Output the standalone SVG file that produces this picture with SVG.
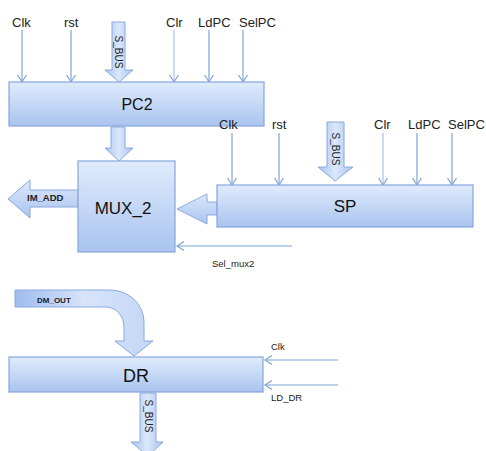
<svg xmlns="http://www.w3.org/2000/svg" width="486" height="451" viewBox="0 0 486 451">
<defs>
<linearGradient id="boxg" x1="0" y1="0" x2="0" y2="1">
<stop offset="0" stop-color="#e0ebfc"/>
<stop offset="1" stop-color="#a9c4ef"/>
</linearGradient>
<linearGradient id="vArr" x1="0" y1="0" x2="1" y2="0">
<stop offset="0" stop-color="#a9c4ef"/>
<stop offset="0.5" stop-color="#dbe7fb"/>
<stop offset="1" stop-color="#a9c4ef"/>
</linearGradient>
<linearGradient id="hArr" x1="0" y1="0" x2="0" y2="1">
<stop offset="0" stop-color="#dce8fb"/>
<stop offset="1" stop-color="#a9c4ef"/>
</linearGradient>
<linearGradient id="dmArr" x1="0" y1="0" x2="1" y2="0">
<stop offset="0" stop-color="#9fbbed"/>
<stop offset="0.5" stop-color="#d7e4fa"/>
<stop offset="1" stop-color="#c3d6f5"/>
</linearGradient>
<marker id="open" markerUnits="userSpaceOnUse" markerWidth="10" markerHeight="12" refX="7" refY="5" orient="auto">
<path d="M0,0.5 L7,5 L0,9.5" fill="none" stroke="#7fa3d6" stroke-width="1.2"/>
</marker>
<style>
.box{fill:url(#boxg);stroke:#85a6da;stroke-width:1.2}
.big{stroke:#8aaade;stroke-width:1}
.thin{stroke:#7fa3d6;stroke-width:1.2;fill:none;marker-end:url(#open)}
.lbl{font-family:"Liberation Sans",Arial,sans-serif;fill:#222;font-size:13px}
.nm{font-family:"Liberation Sans",Arial,sans-serif;fill:#111;text-anchor:middle}
.sm{font-family:"Liberation Sans",Arial,sans-serif;fill:#222;font-size:9px}
.bus{font-family:"Liberation Sans",Arial,sans-serif;fill:#222;font-size:10px;text-anchor:middle}
</style>
</defs>

<g id="connectors">
<!-- PC2 inputs -->
<line class="thin" x1="22" y1="30" x2="22" y2="82"/>
<line class="thin" x1="71" y1="30" x2="71" y2="82"/>
<line class="thin" x1="174" y1="30" x2="174" y2="82" style="stroke:#a9c2e6"/>
<line class="thin" x1="209" y1="30" x2="209" y2="82"/>
<line class="thin" x1="243" y1="30" x2="243" y2="82"/>
<path class="big" fill="url(#vArr)" d="M112,22 H125 V70 H133 L119,82 L105,70 H112 Z"/>
<text class="bus" transform="translate(115,52) rotate(90)">S_BUS</text>
<!-- PC2 to MUX -->
<path class="big" fill="url(#vArr)" d="M111,127 H125 V148 H133 L119,161 L105,148 H111 Z"/>
<!-- IM_ADD -->
<path class="big" fill="url(#hArr)" d="M78,190 H30 V180 L8,199 L30,218 V207 H78 Z"/>
<text class="sm" x="27" y="201" style="font-size:9.5px;font-weight:bold">IM_ADD</text>
<!-- SP to MUX -->
<path class="big" fill="url(#hArr)" d="M217,202 H207 V194 L177,209 L207,224 V215 H217 Z"/>
<!-- SP inputs -->
<line class="thin" x1="232" y1="133" x2="232" y2="185"/>
<line class="thin" x1="279" y1="133" x2="279" y2="185"/>
<line class="thin" x1="383" y1="133" x2="383" y2="185" style="stroke:#a9c2e6"/>
<line class="thin" x1="417" y1="133" x2="417" y2="185"/>
<line class="thin" x1="452" y1="133" x2="452" y2="185"/>
<path class="big" fill="url(#vArr)" d="M327,122 H344 V167 H353 L335,181 L318,167 H327 Z"/>
<text class="bus" transform="translate(332,149) rotate(90)">S_BUS</text>
<!-- Sel_mux2 -->
<line class="thin" x1="292" y1="246" x2="177" y2="246"/>
<!-- DM_OUT -->
<path class="big" fill="url(#dmArr)" d="M15,290 H110 A34,32 0 0 1 144,322 V341 H153 L134,356 L115,341 H124 V327 A18,20 0 0 0 106,307 H15 Z"/>
<text class="sm" x="37" y="303" style="font-size:8px;font-weight:bold">DM_OUT</text>
<!-- DR inputs -->
<line class="thin" x1="338" y1="360" x2="265" y2="360"/>
<line class="thin" x1="338" y1="385" x2="265" y2="385"/>
<!-- DR output -->
<path class="big" fill="url(#vArr)" d="M140,393 H156 V442 H163 L148,456 L131,442 H140 Z"/>
<text class="bus" transform="translate(145,416) rotate(90)">S_BUS</text>
</g>

<g id="PC2">
<rect class="box" x="9" y="82" width="255" height="44"/>
<text class="nm" x="137" y="110" font-size="16">PC2</text>
<text class="lbl" x="12" y="27">Clk</text>
<text class="lbl" x="64" y="27">rst</text>
<text class="lbl" x="166" y="27">Clr</text>
<text class="lbl" x="198" y="27">LdPC</text>
<text class="lbl" x="239" y="27">SelPC</text>
</g>

<g id="MUX_2">
<rect class="box" x="78" y="161" width="97" height="91"/>
<text class="nm" x="123" y="214" font-size="17">MUX_2</text>
</g>

<g id="SP">
<rect class="box" x="217" y="185" width="256" height="42"/>
<text class="nm" x="345" y="212" font-size="17">SP</text>
<text class="lbl" x="219" y="129">Clk</text>
<text class="lbl" x="272" y="129">rst</text>
<text class="lbl" x="374" y="129">Clr</text>
<text class="lbl" x="408" y="129">LdPC</text>
<text class="lbl" x="448" y="129">SelPC</text>
<text class="sm" x="212" y="267" style="font-size:9.5px">Sel_mux2</text>
</g>

<g id="DR">
<rect class="box" x="9" y="357" width="254" height="35"/>
<text class="nm" x="136" y="382" font-size="18">DR</text>
<text class="sm" x="271" y="350" style="font-size:9.5px">Clk</text>
<text class="sm" x="271" y="401" style="font-size:9.5px">LD_DR</text>
</g>
</svg>
